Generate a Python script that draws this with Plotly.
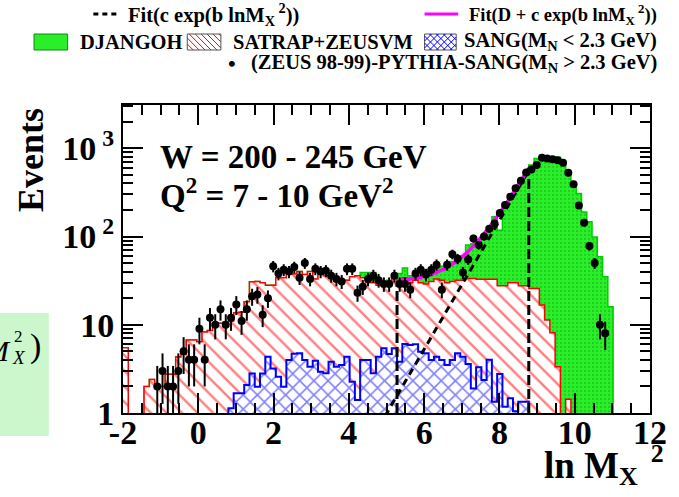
import numpy as np
import plotly.graph_objects as go

# ---------------- data (100 bins of width 0.14 from -2 to 12) ----------------
BIN_LO, BIN_HI, NBINS = -2.0, 12.0, 100

satrap_zeusvm = [
    5.5, 0, 0, 0, 2.0, 2.4, 2.0, 2.0, 2.75, 2.75,
    4.3, 4.65, 6.7, 6.7, 6.4, 8.3, 8.6, 10.4, 10.4, 10.7,
    11.0, 13.7, 13.9, 18.2, 30.7, 31, 30, 28, 28, 34,
    34, 37.5, 37.5, 40, 37, 40, 33, 40, 36, 36,
    34, 30, 32, 35, 36, 34, 30, 30, 28, 28,
    31, 34, 32, 34, 30, 32, 30, 29, 31, 33,
    32, 30, 31, 32, 32, 33.5, 33.5, 32.7, 32.7, 32.7,
    32.7, 27.6, 27.6, 30, 30, 27.6, 27.6, 25.8, 25.8, 16.7,
    11.3, 8.1, 3.35, 0, 1.43, 0, 0, 0, 0, 0,
    0, 0, 0, 0, 0, 0, 0, 0, 0, 0,
]

djangoh_total = [
    5.5, 0, 0, 0, 2.0, 2.4, 2.0, 2.0, 2.75, 2.75,
    4.3, 4.65, 6.7, 6.7, 6.4, 8.3, 8.6, 10.4, 10.4, 10.7,
    11.0, 13.7, 13.9, 18.2, 30.7, 31, 30, 28, 28, 34,
    34, 37.5, 37.5, 40, 37, 40, 33, 40, 36, 36,
    34, 30, 32, 35, 36, 39, 39, 39, 33, 30,
    32, 34, 38, 44, 36, 38, 40, 42, 40, 44,
    46, 48, 52, 55, 60, 80, 83, 83, 99, 129,
    167, 118, 227, 295, 351, 417, 518, 645, 767, 800,
    800, 800, 790, 673, 518, 400, 308, 190, 147, 99,
    59, 35, 16, 0, 0, 0, 0, 0, 0, 0,
]

sang_low_mn = [
    0, 0, 0, 0, 0, 0, 0, 0, 0, 0,
    0, 0, 0, 0, 0, 0, 0, 0, 0, 0,
    1.13, 1.67, 1.67, 2.07, 2.8, 1.98, 2.8, 4.34, 3.2, 2.58,
    1.98, 3.98, 4.7, 4.74, 3.98, 3.34, 3.9, 2.94, 2.82, 3.8,
    3.34, 3.5, 4.34, 2.26, 1.4, 3.98, 3.98, 2.82, 4.34, 5.4,
    4.66, 5.4, 3.8, 6.05, 5.9, 6.0, 4.94, 4.74, 3.98, 4.34,
    3.98, 3.5, 3.98, 4.74, 4.34, 3.6, 1.9, 3.3, 2.36, 4.0,
    1.34, 2.76, 1.18, 1.47, 1.05, 1.34, 1.34, 0, 0, 0,
    0, 0, 0, 0, 0, 0, 0, 0, 0, 0,
    0, 0, 0, 0, 0, 0, 0, 0, 0, 0,
]

N = None
zeus_data = [
    N, N, N, N, N, N, 2, 3, 2, 2,
    3, 5, 4, 4, 9, 4, 12, 10, 15, 10,
    12, 17, 11, 15, 21, 22, 13, 20, 46, 38,
    42, 40, 45, 34, 50, 33, 43, 40, 41, 36,
    33, 31, 43, 43, 23, 27, 33, 36, 32, 29,
    29, 36, 29, 29, 25, 38, 42, 37, 42, 48,
    25, 48, 63, 56, 39, 55, 95, 80, 100, 122,
    140, 185, 227, 282, 351, 427, 530, 575, 645, 780,
    767, 752, 733, 684, 526, 392, 225, 143, 78, 50,
    10, 8, N, N, N, N, N, N, N, N,
]

# fit parameters (fit range 5.28 - 8.78)
fit_b = 1.68
fit_c = 2.21e-4
fit_D = 30.0
fit_lo, fit_hi = 5.28, 8.78
fit1_draw_lo = 4.8

x_ticks = [-2, 0, 2, 4, 6, 8, 10, 12]
y_ticks = [1, 10, 100, 1000]
y_ticktext = ["1", "10", "10<sup> 2</sup>", "10<sup> 3</sup>"]

# ---------------- geometry helpers (pixel -> paper) ----------------
W, H = 679, 497
PL, PR, PT, PB = 123, 656, 105, 413


def px(x):
    return (x - PL) / (PR - PL)


def py(y):
    return (PB - y) / (PB - PT)


edges = np.linspace(BIN_LO, BIN_HI, NBINS + 1)
centers = 0.5 * (edges[:-1] + edges[1:])
FLOOR = 1e-2  # below visible range for empty bins


def step_xy(vals):
    v = np.array(vals, dtype=float)
    v = np.where(v > 0, v, FLOOR)
    return edges, np.append(v, v[-1])


SERIF = "Liberation Serif"
fig = go.Figure()

# DJANGOH (green)
sx, sy = step_xy(djangoh_total)
fig.add_trace(go.Scatter(
    x=sx, y=sy, mode="lines", line=dict(shape="hv", color="#00cc00", width=1.5),
    fill="tozeroy", fillcolor="#22ee22",
    fillpattern=dict(shape=".", fgcolor="#11aa11", bgcolor="#2af02a", size=4, solidity=0.25),
    hoverinfo="skip"))

# SATRAP+ZEUSVM (red hatched)
sx, sy = step_xy(satrap_zeusvm)
fig.add_trace(go.Scatter(
    x=sx, y=sy, mode="lines", line=dict(shape="hv", color="#ff0000", width=1.5),
    fill="tozeroy",
    fillpattern=dict(shape="\\", fgcolor="#ff0000", bgcolor="white", size=11, solidity=0.22),
    hoverinfo="skip"))

# SANG (blue cross hatched)
sx, sy = step_xy(sang_low_mn)
fig.add_trace(go.Scatter(
    x=sx, y=sy, mode="lines", line=dict(shape="hv", color="#0000ff", width=2),
    fill="tozeroy",
    fillpattern=dict(shape="x", fgcolor="#0000ff", bgcolor="white", size=10, solidity=0.28),
    hoverinfo="skip"))

# fits
xf1 = np.linspace(fit1_draw_lo, fit_hi, 200)
fig.add_trace(go.Scatter(x=xf1, y=fit_c * np.exp(fit_b * xf1), mode="lines",
                         line=dict(color="black", width=3, dash="7px,5px"), hoverinfo="skip"))
xf2 = np.linspace(fit_lo, fit_hi, 200)
fig.add_trace(go.Scatter(x=xf2, y=fit_D + fit_c * np.exp(fit_b * xf2), mode="lines",
                         line=dict(color="#ff00ff", width=3.5), hoverinfo="skip"))
# fit range boundaries
for xb in (fit_lo, fit_hi):
    fig.add_trace(go.Scatter(x=[xb, xb], y=[1, fit_D + fit_c * np.exp(fit_b * xb)], mode="lines",
                             line=dict(color="black", width=3, dash="10px,4px"), hoverinfo="skip"))

# data points
dv = np.array([np.nan if v is None else v for v in zeus_data], dtype=float)
fig.add_trace(go.Scatter(
    x=centers, y=dv, mode="markers",
    marker=dict(color="black", size=8, symbol="circle"),
    error_y=dict(type="data", array=np.sqrt(np.nan_to_num(dv)), visible=True,
                 thickness=2, width=0, color="black"),
    hoverinfo="skip"))

# ---------------- axes ----------------
x_minor = [v for v in np.arange(BIN_LO, BIN_HI + 0.01, 0.5) if v not in x_ticks]
y_minor = [k * 10 ** d for d in range(4) for k in range(2, 10)]

fig.update_xaxes(
    range=[BIN_LO, BIN_HI], tickmode="array", tickvals=x_ticks, ticktext=[str(t) for t in x_ticks],
    ticks="inside", ticklen=20, tickwidth=2, tickcolor="black",
    showline=True, linewidth=2, linecolor="black", mirror="allticks",
    showgrid=False, zeroline=False, ticklabelstandoff=-12,
    tickfont=dict(family=SERIF, size=34, color="black", weight="bold"),
    minor=dict(ticks="inside", ticklen=10, tickwidth=2, tickcolor="black",
               tickmode="array", tickvals=x_minor, showgrid=False))
fig.update_yaxes(
    type="log", range=[0, 3.49], tickmode="array", tickvals=y_ticks, ticktext=y_ticktext,
    ticks="inside", ticklen=20, tickwidth=2, tickcolor="black",
    showline=True, linewidth=2, linecolor="black", mirror="allticks",
    showgrid=False, zeroline=False,
    tickfont=dict(family=SERIF, size=34, color="black", weight="bold"),
    minor=dict(ticks="inside", ticklen=10, tickwidth=2, tickcolor="black",
               tickmode="array", tickvals=y_minor, showgrid=False))

shapes = []
annots = []


def text(xp, yp, s, size, anchor="left", family=SERIF, bold=True, italic=False, color="black"):
    annots.append(dict(x=px(xp), y=py(yp), xref="paper", yref="paper", text=s, showarrow=False,
                       xanchor=anchor, yanchor="middle",
                       font=dict(family=family, size=size, color=color,
                                 weight="bold" if bold else "normal",
                                 style="italic" if italic else "normal")))


# left partial light-green box (clipped fragment)
shapes.append(dict(type="rect", xref="paper", yref="paper", x0=px(-5), x1=px(48), y0=py(313), y1=py(436),
                   fillcolor="#ccf7cc", line=dict(width=0), layer="below"))
text(12, 350, "<i>M</i>", 30, anchor="right", bold=False)
text(11, 336, "2", 17, bold=False)
text(9, 357, "<i>X</i>", 19, bold=False)
text(27, 346, ")", 34, bold=False)

# in-plot labels
text(158, 157, "W = 200 - 245 GeV", 33)
text(158, 193, "Q<sup>2</sup> = 7 - 10 GeV<sup>2</sup>", 33)

# axis titles
annots.append(dict(x=px(30), y=py(160), xref="paper", yref="paper", text="Events", showarrow=False,
                   textangle=-90, xanchor="center", yanchor="middle",
                   font=dict(family=SERIF, size=36, color="black", weight="bold")))
text(672, 465, "ln M<sub>X</sub><sup>  2</sup>", 37, anchor="right")

# ---------------- legend (drawn manually) ----------------
LS = 20.5
shapes.append(dict(type="line", xref="paper", yref="paper", x0=px(93), x1=px(118), y0=py(14), y1=py(14),
                   line=dict(color="black", width=3, dash="5px,4px")))
text(126, 14, "Fit(c exp(b lnM<sub>X</sub><sup> 2</sup>))", LS)
shapes.append(dict(type="line", xref="paper", yref="paper", x0=px(428), x1=px(462), y0=py(14), y1=py(14),
                   line=dict(color="#ff00ff", width=3)))
text(665, 14, "Fit(D + c exp(b lnM<sub>X</sub><sup> 2</sup>))", 18.5, anchor="right")

# boxes row 2
by0, by1 = 34, 50
shapes.append(dict(type="rect", xref="paper", yref="paper", x0=px(33), x1=px(67), y0=py(by1), y1=py(by0),
                   fillcolor="#2aee2a", line=dict(color="#118811", width=1)))
text(77, 42, "DJANGOH", LS)


def hatch_box(x0, x1, color, dirs, step=6):
    h = by1 - by0
    shapes.append(dict(type="rect", xref="paper", yref="paper", x0=px(x0), x1=px(x1), y0=py(by1), y1=py(by0),
                       fillcolor="white", line=dict(color="#555555", width=1)))
    for d in dirs:
        for off in np.arange(x0 - h, x1 + step, step):
            if d > 0:
                xa, ya, xb, yb = off, by0, off + h, by1
            else:
                xa, ya, xb, yb = off + h, by0, off, by1
            pts = []
            for t in np.linspace(0, 1, 200):
                xx = xa + (xb - xa) * t
                yy = ya + (yb - ya) * t
                if x0 <= xx <= x1:
                    pts.append((xx, yy))
            if len(pts) > 1:
                shapes.append(dict(type="line", xref="paper", yref="paper",
                                   x0=px(pts[0][0]), y0=py(pts[0][1]), x1=px(pts[-1][0]), y1=py(pts[-1][1]),
                                   line=dict(color=color, width=1)))


hatch_box(188, 222, "#ff0000", [1])
text(232, 42, "SATRAP+ZEUSVM", LS)
hatch_box(428, 460, "#0000ff", [1, -1], step=7)
text(665, 42, "SANG(M<sub>N</sub> &lt; 2.3 GeV)", LS, anchor="right")

text(233, 64, "•", 22, anchor="center")
text(665, 64, "(ZEUS 98-99)-PYTHIA-SANG(M<sub>N</sub> &gt; 2.3 GeV)", 20.5, anchor="right")

fig.update_layout(
    width=W, height=H,
    margin=dict(l=PL, r=W - PR, t=PT, b=H - PB),
    plot_bgcolor="white", paper_bgcolor="white",
    showlegend=False, hovermode=False,
    font=dict(family=SERIF, color="black"),
    shapes=shapes, annotations=annots,
)

fig.write_html("out.html", config={"displayModeBar": False, "staticPlot": True},
               post_script="document.body.style.margin='0px';")
